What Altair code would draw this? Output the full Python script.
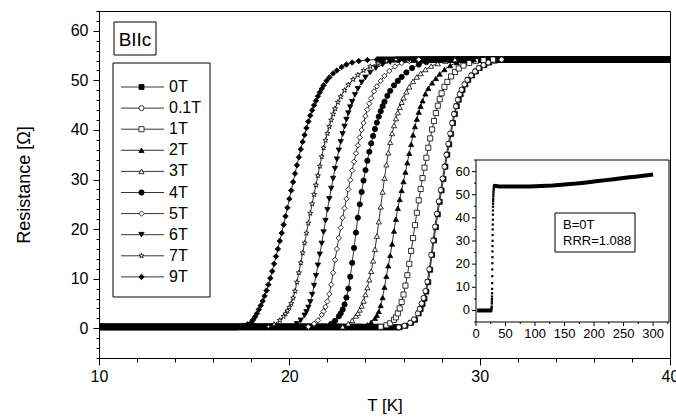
import altair as alt
import pandas as pd

# ---------------- data ----------------
FIELDS = ["0T", "0.1T", "1T", "2T", "3T", "4T", "5T", "6T", "7T", "9T"]

T_0T = [25.8, 26.1, 26.4, 26.6, 26.8, 26.9, 27.0, 27.1, 27.2, 27.3, 27.4, 27.5, 27.6, 27.7, 27.8, 27.9, 28.0, 28.1, 28.2, 28.3, 28.4, 28.5, 28.6, 28.7, 28.8, 28.9, 29.0, 29.1, 29.25, 29.4, 29.6, 29.8, 30.0, 30.25, 30.5, 30.8, 31.2]
R_0T = [0.2, 0.5, 1.1, 1.7, 3.0, 3.9, 4.9, 6.0, 7.4, 9.3, 11.8, 14.8, 17.7, 20.4, 23.0, 25.5, 27.8, 30.1, 32.6, 35.0, 37.1, 39.2, 41.4, 43.2, 44.8, 46.1, 47.2, 48.1, 49.2, 50.1, 51.0, 51.8, 52.5, 53.1, 53.6, 54.0, 54.2]

T_01T = [25.75, 26.05, 26.35, 26.55, 26.75, 26.85, 26.95, 27.05, 27.15, 27.25, 27.35, 27.45, 27.55, 27.65, 27.75, 27.85, 27.95, 28.05, 28.15, 28.25, 28.35, 28.45, 28.55, 28.65, 28.75, 28.85, 28.95, 29.05, 29.2, 29.35, 29.55, 29.75, 29.95, 30.2, 30.45, 30.75, 31.15]
R_01T = [0.2, 0.5, 1.1, 1.8, 3.0, 3.9, 5.0, 6.1, 7.5, 9.4, 11.9, 14.8, 17.7, 20.5, 23.1, 25.6, 27.9, 30.2, 32.6, 35.0, 37.2, 39.3, 41.4, 43.2, 44.8, 46.1, 47.2, 48.1, 49.2, 50.1, 51.0, 51.8, 52.5, 53.1, 53.6, 54.0, 54.2]

T_1T = [24.8, 25.1, 25.3, 25.5, 25.6, 25.7, 25.8, 25.9, 26.0, 26.1, 26.2, 26.3, 26.4, 26.5, 26.6, 26.7, 26.8, 26.9, 27.0, 27.1, 27.2, 27.3, 27.4, 27.5, 27.6, 27.7, 27.8, 27.9, 28.0, 28.15, 28.3, 28.5, 28.7, 28.9, 29.15, 29.45, 29.8, 30.2, 30.7]
R_1T = [0.3, 0.6, 1.0, 1.7, 2.2, 3.0, 4.0, 5.3, 6.8, 8.6, 10.7, 13.0, 15.6, 18.2, 20.8, 23.3, 25.8, 28.1, 30.3, 32.4, 34.4, 36.4, 38.3, 40.1, 41.8, 43.4, 44.9, 46.2, 47.4, 48.7, 49.7, 50.8, 51.7, 52.4, 53.0, 53.5, 53.9, 54.1, 54.2]

T_2T = [23.8, 24.1, 24.3, 24.5, 24.6, 24.7, 24.8, 24.9, 25.0, 25.1, 25.2, 25.3, 25.4, 25.5, 25.6, 25.7, 25.8, 25.9, 26.0, 26.1, 26.2, 26.3, 26.4, 26.5, 26.6, 26.7, 26.8, 26.9, 27.0, 27.15, 27.3, 27.5, 27.7, 27.9, 28.15, 28.45, 28.8, 29.2, 29.7]
R_2T = [0.3, 0.7, 1.2, 2.0, 2.6, 3.4, 4.6, 6.2, 8.3, 10.5, 12.6, 14.7, 17.0, 19.6, 22.0, 24.2, 26.0, 27.8, 29.6, 31.5, 33.4, 35.3, 37.1, 39.0, 40.7, 42.2, 43.6, 44.8, 45.9, 47.3, 48.4, 49.5, 50.4, 51.3, 52.2, 53.0, 53.6, 54.0, 54.2]

T_3T = [22.8, 23.1, 23.3, 23.5, 23.6, 23.7, 23.8, 23.9, 24.0, 24.1, 24.2, 24.3, 24.4, 24.5, 24.6, 24.7, 24.8, 24.9, 25.0, 25.1, 25.2, 25.3, 25.4, 25.5, 25.6, 25.7, 25.8, 25.9, 26.0, 26.15, 26.3, 26.5, 26.7, 26.9, 27.15, 27.45, 27.8, 28.2, 28.7]
R_3T = [0.3, 0.9, 1.6, 2.5, 3.0, 3.7, 4.5, 5.5, 6.8, 8.2, 9.8, 11.5, 13.6, 15.9, 18.6, 21.5, 24.5, 27.5, 30.3, 33.0, 35.4, 37.5, 39.3, 40.9, 42.3, 43.5, 44.6, 45.6, 46.5, 47.7, 48.7, 49.8, 50.7, 51.4, 52.2, 52.9, 53.4, 53.9, 54.2]

T_4T = [21.9, 22.2, 22.4, 22.6, 22.7, 22.8, 22.9, 23.0, 23.1, 23.2, 23.3, 23.4, 23.5, 23.6, 23.7, 23.8, 23.9, 24.0, 24.1, 24.2, 24.3, 24.4, 24.5, 24.6, 24.7, 24.8, 24.9, 25.0, 25.15, 25.3, 25.5, 25.7, 25.9, 26.15, 26.45, 26.8, 27.2, 27.7, 28.2]
R_4T = [0.3, 0.9, 1.5, 2.4, 3.0, 3.8, 4.8, 6.2, 8.0, 10.4, 13.2, 16.2, 19.3, 22.3, 25.0, 27.5, 29.8, 31.9, 33.8, 35.6, 37.3, 38.8, 40.2, 41.5, 42.7, 43.8, 44.8, 45.7, 46.9, 47.9, 49.0, 49.9, 50.7, 51.6, 52.5, 53.2, 53.7, 54.1, 54.2]

T_5T = [21.0, 21.3, 21.5, 21.7, 21.8, 21.9, 22.0, 22.1, 22.2, 22.3, 22.4, 22.5, 22.6, 22.7, 22.8, 22.9, 23.0, 23.1, 23.2, 23.3, 23.4, 23.5, 23.6, 23.7, 23.8, 23.9, 24.0, 24.1, 24.2, 24.3, 24.45, 24.6, 24.8, 25.0, 25.25, 25.55, 25.9, 26.3, 26.8]
R_5T = [0.3, 0.9, 1.6, 2.7, 3.4, 4.3, 5.4, 6.9, 8.8, 11.2, 13.8, 16.0, 18.2, 20.3, 22.3, 24.2, 26.1, 28.0, 29.9, 31.8, 33.6, 35.3, 36.9, 38.5, 40.0, 41.4, 42.8, 44.1, 45.3, 46.4, 47.8, 48.8, 49.9, 50.9, 51.9, 52.8, 53.5, 53.9, 54.2]

T_6T = [20.1, 20.4, 20.6, 20.8, 20.9, 21.0, 21.1, 21.2, 21.3, 21.4, 21.5, 21.6, 21.7, 21.8, 21.9, 22.0, 22.1, 22.2, 22.3, 22.4, 22.5, 22.6, 22.7, 22.8, 22.9, 23.0, 23.1, 23.2, 23.3, 23.45, 23.6, 23.8, 24.0, 24.25, 24.55, 24.9, 25.3, 25.8, 26.3]
R_6T = [0.3, 0.9, 1.6, 2.6, 3.3, 4.2, 5.3, 6.8, 8.6, 10.6, 12.7, 14.9, 17.1, 19.4, 21.7, 23.9, 26.1, 28.2, 30.2, 32.2, 34.1, 35.9, 37.6, 39.2, 40.7, 42.1, 43.4, 44.6, 45.7, 47.1, 48.3, 49.6, 50.6, 51.6, 52.5, 53.2, 53.7, 54.1, 54.2]

T_7T = [18.9, 19.2, 19.5, 19.7, 19.8, 19.9, 20.0, 20.1, 20.2, 20.3, 20.4, 20.5, 20.6, 20.7, 20.8, 20.9, 21.0, 21.1, 21.2, 21.3, 21.4, 21.5, 21.6, 21.7, 21.8, 21.9, 22.0, 22.1, 22.2, 22.3, 22.4, 22.55, 22.7, 22.9, 23.1, 23.35, 23.6, 23.9, 24.25, 24.65, 25.1, 25.6]
R_7T = [0.3, 0.8, 1.6, 2.4, 2.9, 3.5, 4.2, 5.0, 6.1, 7.5, 9.3, 11.2, 13.2, 15.2, 17.2, 19.2, 21.2, 23.2, 25.1, 27.0, 28.9, 30.8, 32.7, 34.6, 36.4, 37.9, 39.3, 40.7, 42.0, 43.2, 44.3, 45.6, 46.7, 48.0, 49.1, 50.2, 51.1, 52.0, 52.8, 53.5, 53.9, 54.2]

T_9T = [17.3, 17.6, 17.8, 18.0, 18.1, 18.2, 18.3, 18.4, 18.5, 18.6, 18.7, 18.8, 18.9, 19.0, 19.1, 19.2, 19.3, 19.4, 19.5, 19.6, 19.7, 19.8, 19.9, 20.0, 20.1, 20.2, 20.3, 20.4, 20.5, 20.6, 20.7, 20.8, 20.9, 21.0, 21.1, 21.2, 21.3, 21.4, 21.5, 21.6, 21.7, 21.8, 21.95, 22.1, 22.3, 22.5, 22.75, 23.0, 23.3, 23.65, 24.1, 24.6]
R_9T = [0.2, 0.5, 0.8, 1.2, 1.7, 2.3, 3.0, 3.8, 4.6, 5.5, 6.5, 7.6, 8.8, 10.1, 11.5, 13.0, 14.5, 16.0, 17.6, 19.2, 20.9, 22.6, 24.3, 26.1, 27.8, 29.5, 31.2, 32.9, 34.5, 36.1, 37.6, 39.0, 40.4, 41.7, 42.9, 44.0, 45.0, 45.9, 46.8, 47.6, 48.3, 49.0, 49.9, 50.6, 51.4, 52.0, 52.7, 53.2, 53.6, 53.9, 54.1, 54.2]

# inset: B = 0T over the full temperature range
INSET_T_LO = [2, 5, 8, 11, 14, 17, 20, 23, 25]
INSET_R_LO = [0.0, 0.0, 0.0, 0.0, 0.0, 0.0, 0.0, 0.0, 0.0]
INSET_T_HI = [32, 40, 50, 60, 70, 80, 90, 100, 110, 120, 130, 140, 150, 160, 170, 180, 190, 200, 210, 220, 230, 240, 250, 260, 270, 280, 290, 300]
INSET_R_HI = [53.8, 53.6, 53.5, 53.5, 53.5, 53.6, 53.6, 53.7, 53.8, 53.9, 54.0, 54.2, 54.4, 54.6, 54.8, 55.1, 55.4, 55.7, 56.0, 56.3, 56.6, 56.9, 57.2, 57.5, 57.8, 58.1, 58.4, 58.7]
INSET_X_TICKS = [0, 25, 50, 75, 100, 125, 150, 175, 200, 225, 250, 275, 300, 325]
INSET_Y_TICKS = [-5, 0, 5, 10, 15, 20, 25, 30, 35, 40, 45, 50, 55, 60, 65]

X_DOMAIN = [10, 40]
Y_DOMAIN = [-6, 64]
IX_DOMAIN = [0, 327]
IY_DOMAIN = [-5, 65]

# ---------------- layout / styles ----------------
STAR = ("M0,-1L0.225,-0.309L0.951,-0.309L0.363,0.118L0.588,0.809L0,0.382"
        "L-0.588,0.809L-0.363,0.118L-0.951,-0.309L-0.225,-0.309Z")
SHAPES = ["square", "circle", "square", "triangle-up", "triangle-up", "circle",
          "diamond", "triangle-down", STAR, "diamond"]
FILLS = ["black", "white", "white", "black", "white", "black",
         "white", "black", "white", "black"]
SIZES = [25, 30, 25, 38, 38, 32, 45, 38, 36, 50]
FONT = "Liberation Sans"

W, H = 571, 347
PXT = W / (X_DOMAIN[1] - X_DOMAIN[0])   # px per K
PXR = H / (Y_DOMAIN[1] - Y_DOMAIN[0])   # px per Ohm

# inset placement inside the plot area, in pixels
IX_PX = [377, 570]
IY_PX = [311, 149]
# inset value -> main value
AX = X_DOMAIN[0] + IX_PX[0] / PXT
BX = (IX_PX[1] - IX_PX[0]) / (IX_DOMAIN[1] - IX_DOMAIN[0]) / PXT
AY = Y_DOMAIN[1] - IY_PX[0] / PXR
BY = (IY_PX[0] - IY_PX[1]) / (IY_DOMAIN[1] - IY_DOMAIN[0]) / PXR


def xm(expr):
    return f"{AX} + ({expr} - {IX_DOMAIN[0]}) * {BX}"


def ym(expr):
    return f"{AY} + ({expr} - {IY_DOMAIN[0]}) * {BY}"


series = [
    ("0T", T_0T, R_0T), ("0.1T", T_01T, R_01T), ("1T", T_1T, R_1T),
    ("2T", T_2T, R_2T), ("3T", T_3T, R_3T), ("4T", T_4T, R_4T),
    ("5T", T_5T, R_5T), ("6T", T_6T, R_6T), ("7T", T_7T, R_7T),
    ("9T", T_9T, R_9T),
]

rows, bands = [], []
for name, T, R in series:
    for t, r in zip(T, R):
        rows.append({"series": name, "T": t, "R": r})
    bands += [
        {"key": name + "lo", "T": X_DOMAIN[0], "R": R[0]},
        {"key": name + "lo", "T": T[0], "R": R[0]},
        {"key": name + "hi", "T": T[-1], "R": R[-1]},
        {"key": name + "hi", "T": X_DOMAIN[1], "R": R[-1]},
    ]
df = pd.DataFrame(rows)
df_bands = pd.DataFrame(bands)

shape_enc = alt.Shape("series:N", scale=alt.Scale(domain=FIELDS, range=SHAPES), legend=None)
fill_enc = alt.Fill("series:N", scale=alt.Scale(domain=FIELDS, range=FILLS), legend=None)
size_enc = alt.Size("series:N", scale=alt.Scale(domain=FIELDS, range=SIZES), legend=None)


def tick_cond(test, big, small):
    return {"condition": {"test": test, "value": big}, "value": small}


X_AXIS = alt.Axis(
    values=list(range(10, 41, 2)),
    labelExpr="datum.value % 10 === 0 ? datum.label : ''",
    tickSize=tick_cond("datum.value % 10 === 0", 7, 4),
    title="T [K]", titleFontSize=17, titleFontWeight="normal", titlePadding=13,
    labelFontSize=16, labelPadding=3, labelFlush=False, labelOverlap=False,
    grid=False, domainColor="black", tickColor="black",
    labelColor="black", titleColor="black", orient="bottom",
)
Y_AXIS = alt.Axis(
    values=list(range(-6, 65, 2)),
    labelExpr="datum.value % 10 === 0 ? datum.label : ''",
    tickSize=tick_cond("datum.value % 10 === 0", 6, 3),
    title="Resistance [Ω]", titleFontSize=18, titleFontWeight="normal", titlePadding=37,
    labelFontSize=16, labelPadding=5, labelOverlap=False,
    grid=False, domainColor="black", tickColor="black",
    labelColor="black", titleColor="black", orient="left",
)
XS = alt.Scale(domain=X_DOMAIN, nice=False, zero=False)
YS = alt.Scale(domain=Y_DOMAIN, nice=False, zero=False)


def X(f):
    return alt.X(f, type="quantitative", scale=XS, axis=X_AXIS)


def Y(f):
    return alt.Y(f, type="quantitative", scale=YS, axis=Y_AXIS)


band_layer = alt.Chart(df_bands).mark_line(color="black", strokeWidth=6, strokeCap="butt").encode(
    x=X("T"), y=Y("R"), detail="key:N"
)
line_layer = alt.Chart(df).mark_line(color="black", strokeWidth=0.8).encode(
    x=X("T"), y=Y("R"), detail="series:N", order="T:Q"
)
point_layer = alt.Chart(df).mark_point(filled=True, stroke="black", strokeWidth=0.8, opacity=1).encode(
    x=X("T"), y=Y("R"), shape=shape_enc, fill=fill_enc, size=size_enc
)

# ---------------- inset (mapped into the plot area) ----------------
lo_T = INSET_T_LO + [T_0T[0]]
lo_R = INSET_R_LO + [R_0T[0]]
hi_T = [T_0T[-1]] + INSET_T_HI
hi_R = [R_0T[-1]] + INSET_R_HI
df_in_line = pd.DataFrame(
    [{"seg": "lo", "T": t, "R": r} for t, r in zip(lo_T, lo_R)]
    + [{"seg": "hi", "T": t, "R": r} for t, r in zip(hi_T, hi_R)]
)
df_in_pts = pd.DataFrame({"T": T_0T, "R": R_0T})
one = pd.DataFrame({"a": [0]})

in_frame = alt.Chart(one).transform_calculate(
    fx0=xm(str(IX_DOMAIN[0])), fx1=xm(str(IX_DOMAIN[1])),
    fy0=ym(str(IY_DOMAIN[0])), fy1=ym(str(IY_DOMAIN[1])),
).mark_rect(fill="white", stroke="black", strokeWidth=1).encode(
    x=X("fx0"), x2="fx1:Q", y=Y("fy0"), y2="fy1:Q"
)
in_line = alt.Chart(df_in_line).transform_calculate(
    mx=xm("datum.T"), my=ym("datum.R")
).mark_line(color="black", strokeWidth=4, strokeCap="butt").encode(
    x=X("mx"), y=Y("my"), detail="seg:N"
)
in_pts = alt.Chart(df_in_pts).transform_calculate(
    mx=xm("datum.T"), my=ym("datum.R")
).mark_point(shape="square", filled=True, color="black", size=5, opacity=1).encode(
    x=X("mx"), y=Y("my")
)
# inset x axis
df_ixt = pd.DataFrame({"v": INSET_X_TICKS})
ixt_base = alt.Chart(df_ixt).transform_calculate(
    len="datum.v % 50 === 0 ? 4 : 2",
    mx=xm("datum.v"),
    y0=ym(str(IY_DOMAIN[0])),
).transform_calculate(
    y1=f"datum.y0 - datum.len / {PXR}",
    yl=f"datum.y0 - (datum.len + 2) / {PXR}",
    lab="datum.v % 50 === 0 ? '' + datum.v : ''",
)
ixt_rule = ixt_base.mark_rule(color="black", strokeWidth=1).encode(
    x=X("mx"), y=Y("y0"), y2="y1:Q"
)
ixt_lab = ixt_base.mark_text(baseline="top", align="center", fontSize=13, font=FONT, color="black").encode(
    x=X("mx"), y=Y("yl"), text="lab:N"
)
# inset y axis
df_iyt = pd.DataFrame({"v": INSET_Y_TICKS})
iyt_base = alt.Chart(df_iyt).transform_calculate(
    len="datum.v % 10 === 0 ? 4 : 2",
    my=ym("datum.v"),
    x0=xm(str(IX_DOMAIN[0])),
).transform_calculate(
    x1=f"datum.x0 - datum.len / {PXT}",
    xl=f"datum.x0 - (datum.len + 2) / {PXT}",
    lab="datum.v % 10 === 0 ? '' + datum.v : ''",
)
iyt_rule = iyt_base.mark_rule(color="black", strokeWidth=1).encode(
    x=X("x0"), x2="x1:Q", y=Y("my")
)
iyt_lab = iyt_base.mark_text(baseline="middle", align="right", fontSize=13, font=FONT, color="black").encode(
    x=X("xl"), y=Y("my"), text="lab:N"
)
in_box = alt.Chart(one).mark_rect(fill="white", stroke="black", strokeWidth=1).encode(
    x=alt.value(456), x2=alt.value(536), y=alt.value(202), y2=alt.value(241)
)
in_txt1 = alt.Chart(one).mark_text(text="B=0T", align="left", baseline="middle",
                                   fontSize=13, font=FONT, color="black").encode(
    x=alt.value(464), y=alt.value(214)
)
in_txt2 = alt.Chart(one).mark_text(text="RRR=1.088", align="left", baseline="middle",
                                   fontSize=13, font=FONT, color="black").encode(
    x=alt.value(464), y=alt.value(230)
)

# ---------------- legend and label box ----------------
df_leg = pd.DataFrame({"series": FIELDS, "idx": list(range(len(FIELDS)))})
leg_base = alt.Chart(df_leg).transform_calculate(
    ly=f"{Y_DOMAIN[1]} - (76 + datum.idx * 21.1) / {PXR}"
)
leg_box = alt.Chart(one).mark_rect(fill="white", stroke="black", strokeWidth=1).encode(
    x=alt.value(14), x2=alt.value(111), y=alt.value(52), y2=alt.value(286)
)
leg_rule = leg_base.mark_rule(color="black", strokeWidth=0.8).encode(
    x=alt.value(22), x2=alt.value(65), y=Y("ly")
)
leg_pts = leg_base.mark_point(filled=True, stroke="black", strokeWidth=0.8, opacity=1).encode(
    x=alt.value(42.5), y=Y("ly"), shape=shape_enc, fill=fill_enc, size=size_enc
)
leg_txt = leg_base.mark_text(align="left", baseline="middle", fontSize=16, font=FONT, color="black").encode(
    x=alt.value(70), y=Y("ly"), text="series:N"
)
lab_box = alt.Chart(one).mark_rect(fill="white", stroke="black", strokeWidth=1).encode(
    x=alt.value(15), x2=alt.value(57), y=alt.value(11), y2=alt.value(44)
)
lab_txt = alt.Chart(one).mark_text(text="BIIc", align="center", baseline="middle",
                                   fontSize=19, font=FONT, color="black").encode(
    x=alt.value(36), y=alt.value(28.5)
)

chart = (
    alt.layer(
        band_layer, line_layer, point_layer,
        in_frame, in_line, in_pts, ixt_rule, ixt_lab, iyt_rule, iyt_lab,
        in_box, in_txt1, in_txt2,
        leg_box, leg_rule, leg_pts, leg_txt, lab_box, lab_txt,
    )
    .properties(
        width=W, height=H,
        autosize=alt.AutoSizeParams(type="none"),
        padding={"left": 99, "top": 11, "right": 6, "bottom": 62},
        background="white",
    )
    .configure_view(stroke="black", strokeWidth=1)
    .configure_axis(labelFont=FONT, titleFont=FONT, domainWidth=1, tickWidth=1)
    .configure_text(font=FONT)
)

chart.save("out.html", embed_options={"renderer": "svg", "actions": False})
